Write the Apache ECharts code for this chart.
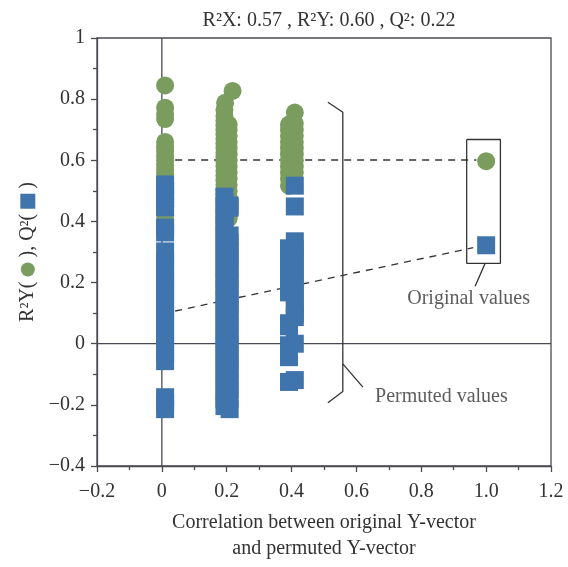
<!DOCTYPE html>
<html>
<head>
<meta charset="utf-8">
<script src="https://cdn.jsdelivr.net/npm/echarts@6/dist/echarts.min.js"></script>
<style>
html,body{margin:0;padding:0;background:#fff;}
#chart{width:568px;height:567px;}
</style>
</head>
<body>
<div id="chart"></div>
<script>
// ---------- data ----------
const titleText = 'R²X: 0.57 , R²Y: 0.60 , Q²: 0.22';
const xAxisTitle = 'Correlation between original Y-vector\nand permuted Y-vector';
const xTickLabels = ['−0.2','0','0.2','0.4','0.6','0.8','1.0','1.2'];
const xTickValues = [-0.2,0,0.2,0.4,0.6,0.8,1.0,1.2];
const yTickLabels = ['−0.4','−0.2','0','0.2','0.4','0.6','0.8','1'];
const yTickValues = [-0.4,-0.2,0,0.2,0.4,0.6,0.8,1.0];

// permuted R2Y (green circles)
const r2yGroup1 = [[0.01,0.845],[0.01,0.772],[0.01,0.752],[0.01,0.735],[0.01,0.66],[0.01,0.645],[0.01,0.63],[0.01,0.615],[0.01,0.60],[0.01,0.585],[0.01,0.57],[0.01,0.555],[0.01,0.54],[0.01,0.525],[0.01,0.51],[0.01,0.495],[0.01,0.48],[0.01,0.465],[0.01,0.45],[0.01,0.435],[0.01,0.42],[0.01,0.405]];
const r2yGroup2 = [[0.218,0.827],[0.195,0.788],[0.193,0.765],[0.193,0.745],[0.193,0.73],[0.193,0.715],[0.193,0.70],[0.193,0.685],[0.193,0.67],[0.193,0.655],[0.193,0.64],[0.193,0.625],[0.193,0.61],[0.193,0.595],[0.193,0.58],[0.193,0.565],[0.193,0.55],[0.193,0.535],[0.193,0.52],[0.193,0.505],[0.193,0.49],[0.206,0.717],[0.206,0.70],[0.206,0.68],[0.206,0.66],[0.206,0.64],[0.206,0.62],[0.206,0.60],[0.206,0.58],[0.206,0.56],[0.206,0.54],[0.206,0.52],[0.206,0.50],[0.206,0.48],[0.206,0.46],[0.206,0.44],[0.206,0.42],[0.206,0.41]];
const r2yGroup3 = [[0.41,0.756],[0.392,0.717],[0.392,0.70],[0.392,0.68],[0.392,0.66],[0.392,0.64],[0.392,0.62],[0.392,0.60],[0.392,0.58],[0.392,0.56],[0.392,0.54],[0.392,0.517],[0.41,0.72],[0.41,0.70],[0.41,0.68],[0.41,0.66],[0.41,0.64],[0.41,0.62],[0.41,0.60],[0.41,0.58],[0.41,0.56]];

// permuted Q2 (blue squares)
const q2Group1 = [[0.01,0.521],[0.01,0.50],[0.01,0.475],[0.01,0.446],[0.01,0.38],[0.01,0.364],[0.01,0.302],[0.01,0.27],[0.01,0.24],[0.01,0.21],[0.01,0.18],[0.01,0.15],[0.01,0.12],[0.01,0.09],[0.01,0.06],[0.01,0.03],[0.01,0.0],[0.01,-0.03],[0.01,-0.057],[0.01,-0.175],[0.01,-0.195],[0.01,-0.214]];
const q2Group2 = [[0.193,0.481],[0.193,0.45],[0.193,0.42],[0.193,0.39],[0.193,0.36],[0.193,0.33],[0.193,0.30],[0.193,0.27],[0.193,0.24],[0.193,0.21],[0.193,0.18],[0.193,0.15],[0.193,0.12],[0.193,0.09],[0.193,0.06],[0.193,0.03],[0.193,0.0],[0.193,-0.03],[0.193,-0.06],[0.193,-0.09],[0.193,-0.12],[0.193,-0.15],[0.193,-0.18],[0.193,-0.204],
  [0.209,0.452],[0.209,0.445],[0.209,0.354],[0.209,0.33],[0.209,0.30],[0.209,0.27],[0.209,0.24],[0.209,0.21],[0.209,0.18],[0.209,0.15],[0.209,0.12],[0.209,0.09],[0.209,0.06],[0.209,0.03],[0.209,0.0],[0.209,-0.03],[0.209,-0.06],[0.209,-0.09],[0.209,-0.12],[0.209,-0.15],[0.209,-0.18],[0.209,-0.214]];
const q2Group3 = [[0.41,0.517],[0.41,0.449],[0.41,0.335],[0.41,0.31],[0.41,0.28],[0.41,0.25],[0.41,0.22],[0.41,0.19],[0.41,0.16],[0.41,0.13],[0.41,0.10],[0.41,0.087],[0.41,0.0],[0.41,-0.119],
  [0.392,0.312],[0.392,0.28],[0.392,0.25],[0.392,0.22],[0.392,0.19],[0.392,0.168],[0.392,0.067],[0.392,0.057],[0.392,-0.005],[0.392,-0.02],[0.392,-0.035],[0.392,-0.044],[0.392,-0.125]];

// original model values
const r2yOriginal = [[1.0,0.597]];
const q2Original = [[1.0,0.322]];

// reference (dashed) lines and annotations
const r2yRefLine = [[0.041,0.601],[0.97,0.601]];
const q2RefLine = [[0.041,0.107],[0.96,0.314]];
const zeroLineV = [[0,-0.4],[0,1]];
const zeroLineH = [[-0.2,0],[1.2,0]];
const originalBox = [[0.94,0.668],[1.044,0.668],[1.044,0.263],[0.94,0.263],[0.94,0.668]];
const originalLeader = [[0.997,0.263],[0.966,0.188]];
const permutedBracket = [[0.512,0.79],[0.558,0.757],[0.558,-0.156],[0.512,-0.193]];
const permutedLeader = [[0.558,-0.066],[0.62,-0.142]];
const annotationLabels = [[0.946,0.146,'Original values'],[0.862,-0.175,'Permuted values']];

// ---------- chart ----------
const GREEN = '#7a9d5f', BLUE = '#3f74ad', INK = '#333', AXIS = '#4a4a55';
const FONT = '"Liberation Serif", "DejaVu Serif", serif';
const FS = 20;
function lookup(vals, labels, v){
  for (let i=0;i<vals.length;i++) if (Math.abs(vals[i]-v)<1e-6) return labels[i];
  return '';
}
function plainLine(data, opts){
  return Object.assign({type:'line', data:data, symbol:'none', silent:true, z:1,
    lineStyle:{color:INK, width:1.3}, animation:false}, opts||{});
}
const chart = echarts.init(document.getElementById('chart'), null, {renderer:'canvas'});
chart.setOption({
  animation:false,
  backgroundColor:'#fff',
  title:{text:titleText, left:324, top:6, textAlign:'center',
    textStyle:{fontFamily:FONT, fontWeight:'normal', fontSize:FS, color:INK}},
  grid:{left:97, right:17, top:38, bottom:100, show:true, borderColor:AXIS, borderWidth:1.3, backgroundColor:'transparent'},
  xAxis:{type:'value', min:-0.2, max:1.2, interval:0.2,
    axisLine:{onZero:false, lineStyle:{color:AXIS, width:1.3}},
    axisTick:{show:true, inside:false, length:6, lineStyle:{color:AXIS, width:1.3}},
    minorTick:{show:true, splitNumber:2, length:4, lineStyle:{color:AXIS, width:1.3}},
    splitLine:{show:false},
    axisLabel:{margin:16, fontFamily:FONT, fontSize:FS, color:INK,
      formatter:v=>lookup(xTickValues,xTickLabels,v)},
    name:xAxisTitle, nameLocation:'middle', nameGap:44,
    nameTextStyle:{fontFamily:FONT, fontSize:FS, color:INK, lineHeight:26}},
  yAxis:{type:'value', min:-0.4, max:1, interval:0.2,
    axisLine:{onZero:false, lineStyle:{color:AXIS, width:1.3}},
    axisTick:{show:true, inside:false, length:6, lineStyle:{color:AXIS, width:1.3}},
    minorTick:{show:true, splitNumber:2, length:4, lineStyle:{color:AXIS, width:1.3}},
    splitLine:{show:false},
    axisLabel:{margin:12, fontFamily:FONT, fontSize:FS, color:INK,
      formatter:v=>lookup(yTickValues,yTickLabels,v)},
    name:'R²Y( {g| } ), Q²( {b| } )', nameLocation:'middle', nameGap:50,
    nameTextStyle:{fontFamily:FONT, fontSize:FS, color:INK,
      rich:{g:{width:14, height:14, backgroundColor:GREEN, borderRadius:7, fontSize:2},
            b:{width:15, height:15, backgroundColor:BLUE, fontSize:2}}}},
  series:[
    plainLine(zeroLineV, {lineStyle:{color:AXIS, width:1.3}}),
    plainLine(zeroLineH, {lineStyle:{color:AXIS, width:1.3}}),
    plainLine(r2yRefLine, {lineStyle:{color:INK, width:1.3, type:[7,6]}}),
    plainLine(q2RefLine, {lineStyle:{color:INK, width:1.3, type:[7,6]}}),
    plainLine(originalBox),
    plainLine(originalLeader),
    plainLine(permutedBracket),
    plainLine(permutedLeader),
    {type:'scatter', name:'R2Y', data:[].concat(r2yGroup1,r2yGroup2,r2yGroup3,r2yOriginal),
      symbol:'circle', symbolSize:18, itemStyle:{color:GREEN, opacity:1}, z:3, silent:true},
    {type:'scatter', name:'Q2', data:[].concat(q2Group1,q2Group2,q2Group3,q2Original),
      symbol:'rect', symbolSize:18, itemStyle:{color:BLUE, opacity:1}, z:4, silent:true},
    {type:'scatter', data:annotationLabels, symbolSize:1, itemStyle:{color:'rgba(0,0,0,0)'}, z:5, silent:true,
      label:{show:true, position:'inside', formatter:p=>p.data[2], fontFamily:FONT, fontSize:FS, color:INK}}
  ]
});
</script>
</body>
</html>
